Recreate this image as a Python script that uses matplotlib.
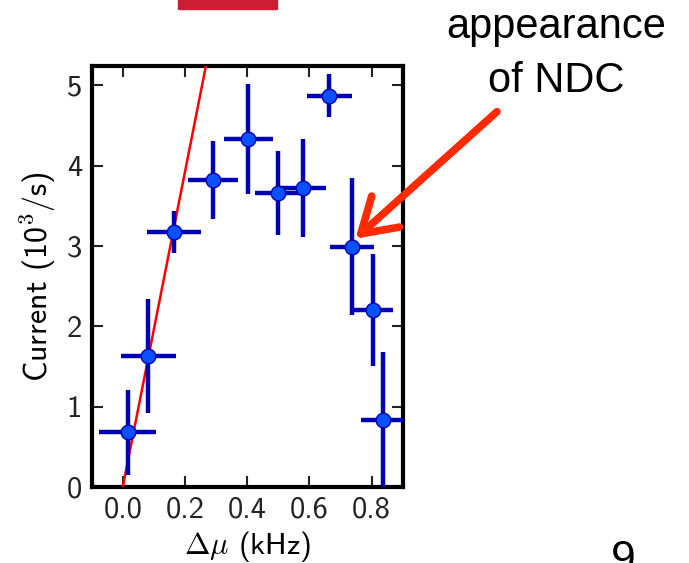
import matplotlib
matplotlib.use("Agg")
import matplotlib.pyplot as plt
from matplotlib.patches import Rectangle

# measured points (Delta mu in kHz, current in 10^3/s)
dmu = [0.016, 0.082, 0.165, 0.290, 0.404, 0.498, 0.580, 0.664, 0.737, 0.803, 0.835]
current = [0.68, 1.63, 3.17, 3.82, 4.33, 3.66, 3.72, 4.87, 2.99, 2.20, 0.83]
dmu_err = [0.092, 0.088, 0.086, 0.081, 0.079, 0.074, 0.074, 0.072, 0.070, 0.065, 0.069]
current_err = [0.53, 0.71, 0.26, 0.48, 0.68, 0.52, 0.61, 0.27, 0.85, 0.70, 0.85]

# linear fit through the low-bias points
fit_x = [0.0, 0.30]
fit_y = [0.0, 5.88]

plt.rcParams['font.family'] = ['cmss10', 'DejaVu Sans']
plt.rcParams['mathtext.fontset'] = 'cm'
plt.rcParams['axes.unicode_minus'] = False

fig = plt.figure(figsize=(6.89, 5.63), dpi=100)
ax = fig.add_axes([0.133, 0.135, 0.4515, 0.748])

ax.plot(fit_x, fit_y, color='red', lw=1.8, zorder=3)
ax.errorbar(dmu, current, xerr=dmu_err, yerr=current_err, fmt='o',
            color='#0000b4', ecolor='#0000b4', elinewidth=3.2, capsize=0,
            markersize=10.5, markerfacecolor='#0a50ff', markeredgecolor='#0000b4',
            markeredgewidth=1, zorder=4)

ax.set_xlim(-0.1, 0.9)
ax.set_ylim(0, 5.24)
ax.set_xticks([0.0, 0.2, 0.4, 0.6, 0.8])
ax.set_yticks([0, 1, 2, 3, 4, 5])
ax.set_xticklabels(['0.0', '0.2', '0.4', '0.6', '0.8'])
ax.tick_params(direction='in', length=8, width=1.5, labelsize=22,
               top=True, right=True, colors='#222222', pad=7)
for s in ax.spines.values():
    s.set_linewidth(3)
ax.set_xlabel(r'$\Delta\mu$ (kHz)', fontsize=22, labelpad=4)
ax.set_ylabel(r'Current (10$^3$/s)', fontsize=23, labelpad=6)

# arrow pointing at the onset of NDC
ax.annotate('', xy=(0.748, 3.09), xytext=(1.203, 4.67),
            arrowprops=dict(arrowstyle='->,head_length=2.4,head_width=1.5',
                            lw=5.5, color='#ff2a00', shrinkA=0, shrinkB=0),
            annotation_clip=False)

fig.text(556 / 689, 1 - 38 / 563, 'appearance', ha='center', va='baseline',
         fontsize=30, family='Liberation Sans')
fig.text(556 / 689, 1 - 92 / 563, 'of NDC', ha='center', va='baseline',
         fontsize=30, family='Liberation Sans')
fig.text(623 / 689, 1 - 540 / 563, '9', ha='center', va='top',
         fontsize=32, family='Liberation Sans')

# slide decoration at top
fig.patches.append(Rectangle((178 / 689, 1 - 8.6 / 563), 99 / 689, 8.6 / 563,
                             transform=fig.transFigure, color='#cc1f36'))

fig.savefig('out.png', dpi=100)
